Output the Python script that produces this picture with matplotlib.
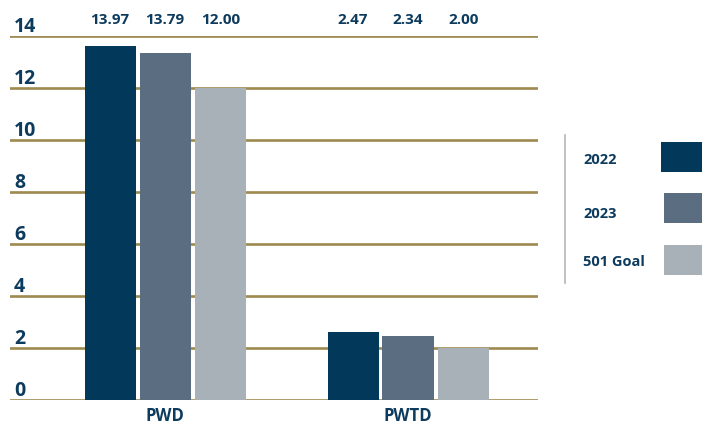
import numpy as np
import matplotlib.pyplot as plt
from matplotlib.patches import Rectangle
from matplotlib.lines import Line2D

plt.rcParams['font.family'] = ['Open Sans', 'DejaVu Sans']

# Data
categories = ['PWD', 'PWTD']
series = ['2022', '2023', '501 Goal']
heights = {
    '2022': [13.6, 2.62],
    '2023': [13.35, 2.46],
    '501 Goal': [12.0, 2.0],
}
value_labels = {
    '2022': ['13.97', '2.47'],
    '2023': ['13.79', '2.34'],
    '501 Goal': ['12.00', '2.00'],
}
yticks = [0, 2, 4, 6, 8, 10, 12, 14]

colors = ['#02385a', '#5b6d80', '#a8b0b8']
text_color = '#0d3b5e'
grid_color = '#9d8a4f'

W, H = 702, 426
fig = plt.figure(figsize=(W / 100, H / 100), dpi=100)
ax = fig.add_axes([10 / W, (H - 400) / H, 528 / W, 364 / H])

x = np.arange(len(categories))
width = 0.21
offsets = [-0.226, 0.0, 0.229]

# gridlines behind bars
for t in yticks:
    ax.axhline(t, color=grid_color, lw=1.9, zorder=1)
    ax.text(4 / 528, t + 0.16, str(t), transform=ax.get_yaxis_transform(),
            ha='left', va='baseline', fontsize=14, fontweight='bold', color=text_color)

for i, s in enumerate(series):
    ax.bar(x + offsets[i], heights[s], width, color=colors[i], zorder=2)
    for j in range(len(categories)):
        ax.text(x[j] + offsets[i], 14.46, value_labels[s][j], ha='center', va='baseline',
                fontsize=11, fontweight='bold', color=text_color, clip_on=False)

for j, c in enumerate(categories):
    ax.text(x[j], -0.82, c, ha='center', va='baseline', fontsize=12, fontweight='bold',
            color=text_color, clip_on=False)

ax.set_xlim(-0.638, 1.535)
ax.set_ylim(0, 14)
for sp in ax.spines.values():
    sp.set_visible(False)
ax.set_xticks([])
ax.set_yticks([])

# legend, drawn by hand on the right
fig.add_artist(Line2D([565 / W, 565 / W], [1 - 135 / H, 1 - 283 / H],
                      transform=fig.transFigure, color='#b5b5b5', lw=1.2))
sw = [(661, 142), (664, 193), (664, 245)]
ly = [164, 218, 266]
for i, s in enumerate(series):
    x0, y0 = sw[i]
    fig.add_artist(Rectangle((x0 / W, 1 - (y0 + 30) / H), (702 - x0) / W, 30 / H,
                             transform=fig.transFigure, color=colors[i], lw=0))
    fig.text(583 / W, 1 - ly[i] / H, s, ha='left', va='baseline', fontsize=10.5,
             fontweight='bold', color=text_color)

fig.savefig('out.png', dpi=100)
